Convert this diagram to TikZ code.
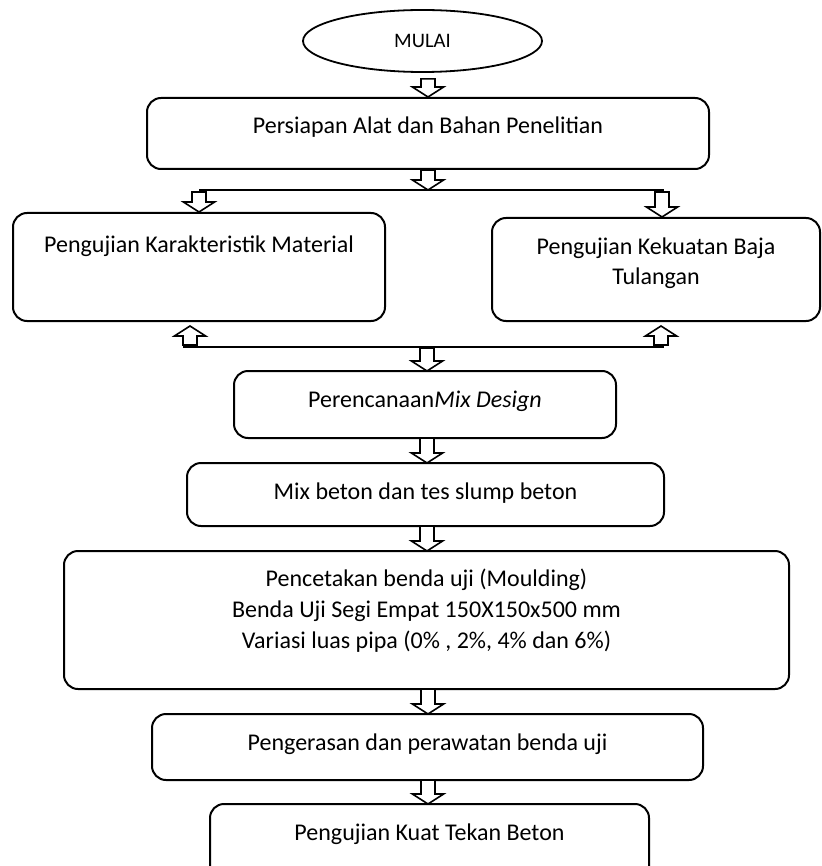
\documentclass[tikz,border=0pt]{standalone}
\usepackage{fontspec}
\setmainfont{Carlito}
\usetikzlibrary{calc,shapes.geometric}
\tikzset{
  stepbox/.style={draw, line width=1pt, rounded corners=7pt, align=center, inner sep=0pt, text height=8pt},
  blockarrow/.style={draw, fill=white, line width=0.8pt, to path={
    let \p1=(\tikztostart), \p2=(\tikztotarget), \n1={(\y1>\y2) ? 5 : -5} in
    ({\x1-3.5pt},\y1) -- ({\x1-3.5pt},{\y2+\n1}) -- ({\x1-7.8pt},{\y2+\n1}) -- (\x1,\y2)
    -- ({\x1+7.8pt},{\y2+\n1}) -- ({\x1+3.5pt},{\y2+\n1}) -- ({\x1+3.5pt},\y1) -- cycle}},
}
\begin{document}
\begin{tikzpicture}[x=0.5pt,y=-0.5pt,font=\fontsize{12}{15}\selectfont]
  \useasboundingbox (0,0) rectangle (821,866);
  \node[draw, ellipse, line width=0.9pt, minimum width=119.5pt, minimum height=31pt, inner sep=0pt,
        font=\fontsize{10.3}{12}\selectfont] (mulai) at (422.5,41) {MULAI};
  \node[stepbox, minimum width=281pt, minimum height=35.5pt, text depth=7.5pt] (persiapan) at (428,133.5)
       {Persiapan Alat dan Bahan Penelitian};
  \node[stepbox, minimum width=186pt, minimum height=54pt, text depth=23pt] (karakteristik) at (199,267)
       {Pengujian Karakteristik Material};
  \node[stepbox, minimum width=164pt, minimum height=51.5pt, text height=22.5pt, text depth=7.5pt] (kekuatan) at (656,269.5)
       {Pengujian Kekuatan Baja\\Tulangan};
  \node[stepbox, minimum width=191pt, minimum height=33.5pt, text depth=5.5pt] (mixdesign) at (425,404.5)
       {Perencanaan\textit{Mix Design}};
  \node[stepbox, minimum width=238.5pt, minimum height=31.5pt, text depth=3.5pt] (slump) at (425.5,494.5)
       {Mix beton dan tes slump beton};
  \node[stepbox, minimum width=362.5pt, minimum height=69pt, text height=39pt, text depth=10.5pt,
        font=\fontsize{12}{15.5}\selectfont] (moulding) at (426.5,620)
       {Pencetakan benda uji (Moulding)\\Benda Uji Segi Empat 150X150x500 mm\\Variasi luas pipa (0\% , 2\%, 4\% dan 6\%)};
  \node[stepbox, minimum width=275.5pt, minimum height=33pt, text depth=5pt] (perawatan) at (427.5,747)
       {Pengerasan dan perawatan benda uji};
  \node[stepbox, minimum width=219.5pt, minimum height=40pt, text depth=12pt] (kuattekan) at (429.5,844)
       {Pengujian Kuat Tekan Beton};

  \coordinate (forkL) at (199,190);
  \coordinate (forkR) at (662,190);
  \coordinate (mergeL) at (190,345);
  \coordinate (mergeR) at (661,345);
  \draw[line width=1pt] (forkL) -- ([xshift=1pt]forkR);
  \draw[line width=1pt] ([xshift=-3.5pt]mergeL |- 0,347) -- ([xshift=1.5pt]mergeR |- 0,347);

  \draw[blockarrow] ([yshift=-3pt]mulai.south -| persiapan.north) to (persiapan.north);
  \draw[blockarrow] (persiapan.south) to (persiapan.south |- forkL);
  \draw[blockarrow] ([yshift=-1pt]forkL) to (forkL |- karakteristik.north);
  \draw[blockarrow] ([yshift=-1pt]forkR) to (forkR |- kekuatan.north);
  \draw[blockarrow] (mergeL) to ([yshift=-2pt]mergeL |- karakteristik.south);
  \draw[blockarrow] (mergeR) to ([yshift=-2pt]mergeR |- kekuatan.south);
  \draw[blockarrow] (427,348) to (427,371);
  \draw[blockarrow] (427,438) to (427,463);
  \draw[blockarrow] (427,526) to (427,551);
  \draw[blockarrow] (428,689) to (428,714);
  \draw[blockarrow] (428,780) to (428,804);
\end{tikzpicture}
\end{document}
